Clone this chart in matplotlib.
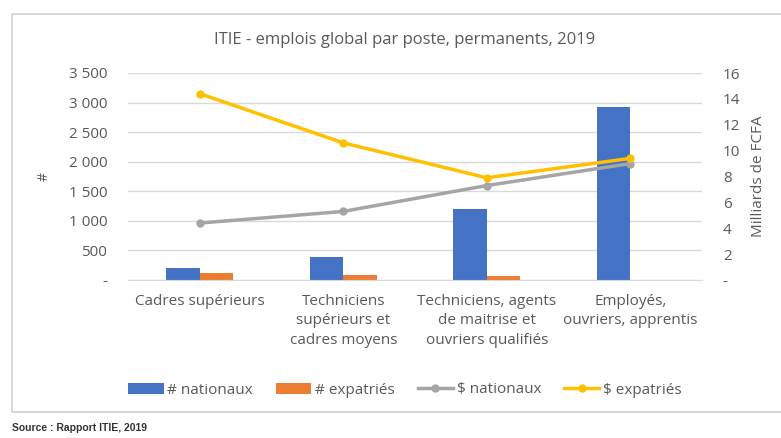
import numpy as np
import matplotlib.pyplot as plt
from matplotlib.patches import Rectangle
from matplotlib.ticker import FuncFormatter

plt.rcParams['font.family'] = ['Open Sans', 'DejaVu Sans']

categories = ['Cadres supérieurs',
              'Techniciens\nsupérieurs et\ncadres moyens',
              'Techniciens, agents\nde maitrise et\nouvriers qualifiés',
              'Employés,\nouvriers, apprentis']
nb_nationaux = [205, 390, 1200, 2925]
nb_expatries = [110, 85, 65, 8]
usd_nationaux = [4.4, 5.3, 7.3, 9.0]
usd_expatries = [14.4, 10.6, 7.9, 9.4]

blue, orange, grey, gold = '#4472C4', '#ED7D31', '#A5A5A5', '#FFC000'
txt = '#595959'

fig = plt.figure(figsize=(7.81, 4.38), dpi=100)
# chart border
fig.patches.append(Rectangle((12/781, 1-412/438), 1, (412-14)/438,
                             transform=fig.transFigure, fill=False,
                             edgecolor='#D0D0D0', lw=1.2))
ax = fig.add_axes([128/781, 1-280/438, (702-128)/781, (280-73)/438])
x = np.arange(len(categories))
w = 0.235
ax.bar(x - w/2, nb_nationaux, w, color=blue, label='# nationaux', zorder=2)
ax.bar(x + w/2, nb_expatries, w, color=orange, label='# expatriés', zorder=2)
ax.set_ylim(0, 3500)
ax.set_yticks(np.arange(0, 3501, 500))
ax.yaxis.set_major_formatter(FuncFormatter(
    lambda v, p: '-' if v == 0 else f'{int(v):,}'.replace(',', '\u00a0')))
ax.grid(axis='y', color='#D9D9D9', lw=1, zorder=0)
ax.set_xlim(-0.5, 3.5)
ax.set_xticks(x)
ax.set_xticklabels(categories, fontsize=11.5, color=txt, linespacing=1.4)
for s in ['top', 'left', 'right']:
    ax.spines[s].set_visible(False)
ax.spines['bottom'].set_color('#D9D9D9')
ax.tick_params(length=0, colors=txt, labelsize=11)
ax.tick_params(axis='x', pad=10)
ax.tick_params(axis='y', pad=15)
ax.set_ylabel('#', color=txt, fontsize=10, labelpad=12)

ax2 = ax.twinx()
ax2.plot(x, usd_nationaux, color=grey, lw=2.5, marker='o', ms=5, label='$ nationaux')
ax2.plot(x, usd_expatries, color=gold, lw=2.5, marker='o', ms=5, label='$ expatriés')
ax2.set_ylim(0, 16)
ax2.set_yticks(np.arange(0, 17, 2))
ax2.yaxis.set_major_formatter(FuncFormatter(lambda v, p: '-' if v == 0 else f'{int(v)}'))
for s in ['top', 'left', 'right', 'bottom']:
    ax2.spines[s].set_visible(False)
ax2.tick_params(length=0, colors=txt, labelsize=11, pad=15)
ax2.set_ylabel('Milliards de FCFA', color=txt, fontsize=11, labelpad=8)

fig.text(405/781, 1-40/438, 'ITIE - emplois global par poste, permanents, 2019',
         ha='center', va='center', fontsize=12, color=txt)

h1, l1 = ax.get_legend_handles_labels()
h2, l2 = ax2.get_legend_handles_labels()
fig.legend(h1 + h2, l1 + l2, ncol=4, loc='center', bbox_to_anchor=(405/781, 1-390/438),
           frameon=False, fontsize=11, labelcolor=txt, handlelength=2.3,
           handletextpad=0.25, columnspacing=1.5)

fig.text(12/781, 1-428/438, 'Source : Rapport ITIE, 2019', ha='left', va='center',
         fontsize=7.5, fontweight='bold', color='#333333', family=['Liberation Sans', 'DejaVu Sans'])

fig.savefig('out.png', dpi=100)
